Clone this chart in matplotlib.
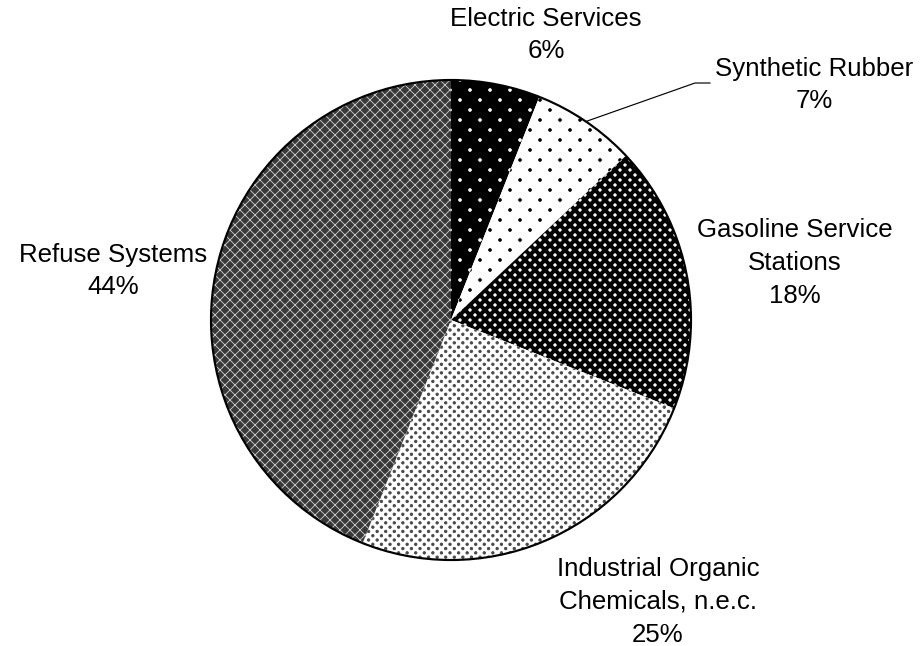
import numpy as np
import matplotlib
matplotlib.use('Agg')
import matplotlib.pyplot as plt
import matplotlib.hatch as mhatch
from matplotlib.path import Path
from matplotlib.patches import Circle

categories = ['Electric Services', 'Synthetic Rubber', 'Gasoline Service\nStations',
              'Industrial Organic\nChemicals, n.e.c.', 'Refuse Systems']
values = [6, 7, 18, 25, 44]

face_colors = ['black', 'white', 'black', 'white', '#383838']
hatch_colors = ['white', 'black', 'white', '#484848', '#c4c4c4']
hatches = ['.', '.', '..', '...', 'xxxx']


# staggered dot lattice (rows at half the column spacing), replacing the '.' hatch
class DotLattice(mhatch.HatchPatternBase):
    def __init__(self, hatch, density):
        n = hatch.count('.')
        cols = {0: 0, 1: 6, 2: 12, 3: 14}.get(n, 14)
        self.r = {1: 0.011, 2: 0.010, 3: 0.010}.get(n, 0.010)
        circ = Path.unit_circle()
        self.sv, self.sc = circ.vertices, circ.codes
        centers = []
        if cols:
            rows = 2 * cols
            for i in range(rows + 1):
                y = i / rows
                if i % 2 == 0:
                    xs = np.linspace(0, 1, cols + 1)
                else:
                    xs = (np.arange(cols) + 0.5) / cols
                centers += [(x, y) for x in xs]
        self.centers = centers
        self.num_vertices = len(centers) * len(self.sv)

    def set_vertices_and_codes(self, vertices, codes):
        nv = len(self.sv)
        for k, (x, y) in enumerate(self.centers):
            vertices[k * nv:(k + 1) * nv] = self.sv * self.r + (x, y)
            codes[k * nv:(k + 1) * nv] = self.sc


mhatch._hatch_types = [DotLattice if t is mhatch.SmallFilledCircles else t
                       for t in mhatch._hatch_types]

DPI = 120
W, H = 921, 646
plt.rcParams['font.family'] = ['Liberation Sans', 'DejaVu Sans']
plt.rcParams['hatch.linewidth'] = 0.55

fig = plt.figure(figsize=(W / DPI, H / DPI), dpi=DPI)
ax = fig.add_axes([0, 0, 1, 1])

cx, cy, R = 451, H - 320, 240
wedges, _ = ax.pie(values, startangle=90, counterclock=False, center=(cx, cy),
                   radius=R, frame=True)
ax.set_xlim(0, W)
ax.set_ylim(0, H)
ax.set_aspect('equal')
ax.axis('off')
for w, fc, hc, h in zip(wedges, face_colors, hatch_colors, hatches):
    w.set_facecolor(fc)
    w.set_edgecolor(hc)
    w.set_hatch(h)
    w.set_linewidth(0)

ax.add_patch(Circle((cx, cy), R, fill=False, edgecolor='black', linewidth=1.3, zorder=5))

fs = 15.5
labels = [f'{c}\n{v}%' for c, v in zip(categories, values)]
pos = [(546, 35), (814, 85), (795, 263), (658, 602), (113, 271)]
for lab, (x, y) in zip(labels, pos):
    ax.text(x, H - y, lab, ha='center', va='center', multialignment='center',
            fontsize=fs, linespacing=1.45, color='black')

# leader line for Synthetic Rubber
w = wedges[1]
mid = np.deg2rad((w.theta1 + w.theta2) / 2)
sx, sy = cx + R * np.cos(mid), cy + R * np.sin(mid)
ax.plot([sx, 695, 710], [sy, H - 83, H - 83], color='black', linewidth=0.7, zorder=6)

fig.savefig('out.png', dpi=DPI)
